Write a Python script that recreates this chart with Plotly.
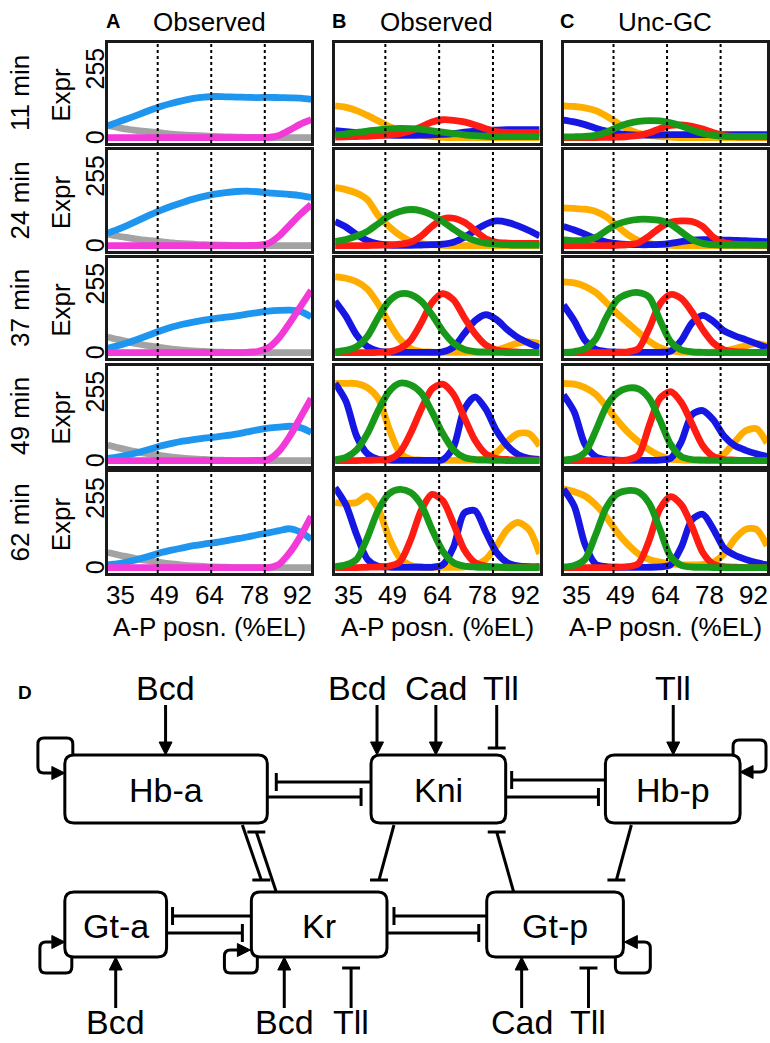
import plotly.graph_objects as go

W, H = 770, 1043
FONT = "Liberation Sans, Arial, Helvetica, sans-serif"

# ---------------- data ----------------
positions = [35, 38, 41, 44, 47, 50, 53, 56, 59, 62, 65, 68, 71, 74, 77, 80, 83, 86, 89, 92]
times = ["11 min", "24 min", "37 min", "49 min", "62 min"]
tick_labels = ["35", "49", "64", "78", "92"]
tick_positions = [38.6, 51.0, 63.5, 76.0, 88.2]
guide_positions = [49, 64, 79]
y_tick_vals = [0, 255]
y_tick_text = ["0", "255"]

# Panel A (observed inputs)
bcd_obs = [
    [45, 37, 30, 25, 21, 17, 13, 10, 8, 6, 4, 3, 2, 1, 1, 0, 0, 0, 0, 0],
    [42, 34, 28, 22, 18, 14, 10, 7, 5, 3, 2, 1, 0, 0, 0, 0, 0, 0, 0, 0],
    [58, 48, 39, 31, 24, 18, 13, 9, 6, 4, 2, 1, 0, 0, 0, 0, 0, 0, 0, 0],
    [58, 47, 38, 30, 24, 18, 13, 9, 6, 4, 2, 1, 0, 0, 0, 0, 0, 0, 0, 0],
    [55, 46, 38, 30, 24, 18, 13, 9, 6, 4, 2, 1, 0, 0, 0, 0, 0, 0, 0, 0],
]
cad_obs = [
    [43, 58, 72, 87, 102, 116, 127, 137, 145, 150, 152, 151, 150, 149, 148, 149, 148, 147, 146, 141],
    [45, 60, 77, 95, 113, 130, 145, 158, 170, 180, 188, 194, 198, 199, 197, 193, 190, 187, 183, 176],
    [16, 26, 38, 52, 67, 82, 95, 105, 113, 120, 126, 131, 136, 142, 148, 153, 156, 157, 152, 132],
    [8, 14, 22, 32, 43, 55, 64, 72, 78, 83, 87, 92, 98, 106, 114, 120, 124, 127, 122, 104],
    [10, 14, 22, 32, 43, 55, 64, 72, 80, 86, 91, 98, 105, 112, 120, 127, 135, 142, 130, 103],
]
tll_obs = [
    [0, 0, 0, 0, 0, 0, 0, 0, 0, 0, 0, 0, 0, 0, 0, 1, 8, 28, 50, 66],
    [0, 0, 0, 0, 0, 0, 0, 0, 0, 0, 0, 0, 0, 0, 1, 8, 35, 75, 115, 150],
    [0, 0, 0, 0, 0, 0, 0, 0, 0, 0, 0, 0, 0, 1, 4, 18, 55, 110, 170, 230],
    [0, 0, 0, 0, 0, 0, 0, 0, 0, 0, 0, 0, 0, 0, 1, 4, 35, 90, 160, 230],
    [0, 0, 0, 0, 0, 0, 0, 0, 0, 0, 0, 0, 0, 0, 0, 0, 12, 55, 115, 188],
]

# Panel B (observed gap genes)
hb_obs = [
    [117, 112, 100, 82, 62, 42, 27, 15, 8, 4, 1, 0, 0, 0, 0, 0, 0, 0, 0, 0],
    [212, 205, 192, 168, 110, 70, 38, 16, 7, 3, 1, 0, 0, 0, 0, 0, 0, 0, 0, 0],
    [280, 275, 262, 235, 180, 110, 50, 15, 4, 2, 1, 1, 1, 1, 2, 8, 22, 35, 40, 33],
    [286, 286, 285, 270, 230, 120, 30, 5, 2, 1, 1, 1, 1, 2, 8, 30, 70, 100, 100, 55],
    [238, 235, 238, 262, 215, 110, 35, 8, 2, 1, 1, 1, 2, 8, 30, 80, 140, 165, 140, 50],
]
gt_obs = [
    [26, 22, 18, 14, 11, 9, 8, 8, 9, 10, 12, 15, 20, 24, 27, 28, 29, 29, 29, 29],
    [88, 68, 40, 18, 6, 2, 1, 1, 2, 3, 5, 12, 30, 55, 78, 90, 85, 72, 55, 35],
    [190, 135, 65, 22, 6, 2, 1, 1, 1, 1, 3, 20, 70, 118, 140, 122, 85, 55, 35, 18],
    [286, 220, 90, 25, 5, 2, 1, 1, 1, 1, 3, 50, 190, 236, 190, 110, 55, 22, 8, 4],
    [293, 230, 120, 30, 5, 2, 1, 1, 1, 1, 10, 75, 200, 208, 130, 55, 18, 6, 3, 3],
]
kr_obs = [
    [10, 14, 19, 24, 29, 32, 34, 33, 30, 25, 20, 15, 10, 7, 5, 4, 4, 4, 4, 4],
    [15, 22, 35, 52, 80, 108, 125, 132, 127, 112, 88, 60, 35, 18, 9, 5, 3, 2, 2, 2],
    [3, 8, 22, 60, 130, 190, 217, 215, 190, 140, 80, 35, 12, 4, 2, 1, 0, 0, 0, 0],
    [3, 12, 40, 100, 185, 255, 286, 280, 250, 180, 100, 40, 12, 4, 2, 1, 0, 0, 0, 0],
    [3, 10, 30, 110, 210, 270, 286, 275, 230, 140, 60, 18, 5, 2, 1, 1, 0, 0, 0, 0],
]
kni_obs = [
    [2, 3, 4, 5, 7, 10, 15, 24, 40, 58, 66, 64, 58, 47, 33, 22, 19, 18, 18, 18],
    [0, 0, 0, 0, 1, 2, 5, 12, 35, 70, 97, 100, 85, 55, 25, 12, 9, 8, 8, 8],
    [0, 0, 0, 0, 1, 3, 15, 45, 110, 185, 218, 195, 130, 70, 28, 10, 4, 2, 1, 1],
    [0, 0, 0, 1, 2, 5, 30, 100, 190, 265, 283, 245, 160, 75, 25, 8, 4, 2, 2, 2],
    [0, 0, 0, 1, 2, 5, 20, 100, 210, 268, 245, 160, 65, 18, 5, 2, 1, 1, 1, 1],
]

# Panel C (Unc-GC model)
hb_unc = [
    [117, 115, 110, 100, 80, 55, 32, 16, 8, 4, 2, 0, 0, 0, 0, 0, 0, 0, 0, 0],
    [138, 136, 133, 125, 105, 72, 40, 18, 7, 3, 1, 0, 0, 0, 0, 0, 0, 0, 0, 0],
    [262, 258, 245, 222, 185, 145, 110, 75, 42, 18, 6, 2, 1, 1, 2, 6, 15, 25, 33, 25],
    [286, 283, 270, 245, 200, 150, 105, 70, 40, 18, 5, 2, 1, 1, 5, 25, 70, 110, 118, 65],
    [287, 278, 262, 230, 185, 130, 85, 50, 30, 20, 14, 10, 10, 12, 20, 50, 105, 140, 140, 80],
]
gt_unc = [
    [65, 58, 48, 35, 24, 16, 11, 9, 9, 10, 11, 11, 11, 11, 11, 11, 11, 11, 11, 11],
    [70, 57, 42, 25, 13, 7, 4, 3, 3, 4, 8, 14, 20, 22, 21, 20, 19, 18, 16, 14],
    [176, 118, 45, 12, 4, 2, 1, 1, 1, 1, 5, 45, 110, 138, 115, 80, 62, 48, 33, 18],
    [243, 180, 60, 15, 4, 2, 1, 1, 1, 2, 8, 70, 170, 185, 150, 90, 55, 38, 25, 15],
    [287, 225, 85, 12, 3, 1, 1, 1, 1, 2, 10, 75, 175, 195, 140, 70, 45, 30, 18, 10],
]
kr_unc = [
    [3, 3, 4, 8, 20, 38, 52, 60, 63, 62, 55, 43, 28, 15, 8, 5, 4, 4, 4, 4],
    [21, 18, 20, 30, 55, 78, 90, 96, 96, 92, 78, 50, 22, 8, 3, 2, 2, 2, 2, 2],
    [1, 4, 14, 50, 130, 195, 217, 222, 205, 120, 40, 10, 3, 1, 0, 0, 0, 0, 0, 0],
    [2, 8, 30, 110, 200, 250, 268, 265, 230, 150, 60, 15, 4, 2, 1, 0, 0, 0, 0, 0],
    [2, 8, 30, 120, 220, 270, 282, 277, 235, 140, 40, 8, 2, 1, 0, 0, 0, 0, 0, 0],
]
kni_unc = [
    [0, 0, 0, 0, 1, 2, 4, 8, 18, 33, 45, 47, 42, 32, 18, 7, 4, 3, 3, 3],
    [0, 0, 0, 0, 0, 1, 3, 10, 35, 65, 85, 90, 88, 70, 30, 10, 5, 3, 2, 2],
    [0, 0, 0, 0, 0, 1, 3, 15, 90, 180, 215, 200, 150, 85, 35, 10, 4, 2, 1, 1],
    [0, 0, 0, 0, 0, 1, 3, 20, 130, 230, 255, 215, 135, 55, 15, 4, 2, 1, 1, 1],
    [0, 0, 0, 0, 0, 1, 3, 15, 100, 215, 260, 230, 150, 55, 12, 3, 1, 0, 0, 0],
]

colors = {
    "Bcd": "#A3A3A3", "Cad": "#1E96F0", "Tll": "#F23AD8",
    "Hb": "#FFAE00", "Gt": "#1717E3", "Kni": "#FF1C12", "Kr": "#18991A",
}

panels = [
    ("A", "Observed", [("Bcd", bcd_obs), ("Cad", cad_obs), ("Tll", tll_obs)]),
    ("B", "Observed", [("Hb", hb_obs), ("Gt", gt_obs), ("Kni", kni_obs), ("Kr", kr_obs)]),
    ("C", "Unc-GC", [("Hb", hb_unc), ("Gt", gt_unc), ("Kni", kni_unc), ("Kr", kr_unc)]),
]

# ---------------- layout geometry (pixels) ----------------
col_px = [(108, 312), (336, 541), (565, 769)]
row_px = [(43, 143), (150, 251), (258, 358), (366, 466), (472, 573)]
y_range = [-20, 350]
x_range = [35, 92]

fig = go.Figure()
layout = dict(
    width=W, height=H, margin=dict(l=0, r=0, t=0, b=0, pad=0), autosize=False,
    paper_bgcolor="white", plot_bgcolor="rgba(0,0,0,0)", showlegend=False,
    font=dict(family=FONT, color="black", size=25),
)
shapes = []
annotations = []

def px_x(p):
    return p / W

def px_y(p):
    return 1 - p / H

idx = 0
for c, (letter, title, series) in enumerate(panels):
    for r in range(5):
        idx += 1
        xa = "x" if idx == 1 else f"x{idx}"
        ya = "y" if idx == 1 else f"y{idx}"
        for name, data in series:
            fig.add_trace(go.Scatter(
                x=positions, y=data[r], mode="lines", name=name,
                line=dict(color=colors[name], width=6.8, shape="spline", smoothing=0.8),
                xaxis=xa, yaxis=ya, hoverinfo="skip",
            ))
        xd = [px_x(col_px[c][0]), px_x(col_px[c][1])]
        yd = [px_y(row_px[r][1]), px_y(row_px[r][0])]
        layout["xaxis" if idx == 1 else f"xaxis{idx}"] = dict(
            domain=xd, range=x_range, anchor=ya, showgrid=False, zeroline=False,
            showline=True, mirror=True, linecolor="#1a1a1a", linewidth=2.5, ticks="",
            showticklabels=False,
        )
        layout["yaxis" if idx == 1 else f"yaxis{idx}"] = dict(
            domain=yd, range=y_range, anchor=xa, showgrid=False, zeroline=False,
            showline=True, mirror=True, linecolor="#1a1a1a", linewidth=2.5, ticks="",
            showticklabels=False,
        )
        if c == 0:
            # y tick labels, placed on this subplot's own y scale
            for v, t in zip(y_tick_vals, y_tick_text):
                annotations.append(dict(
                    x=95 / W, xref="paper", y=v, yref=ya, text=t, showarrow=False,
                    textangle=-90, xanchor="center", yanchor="middle",
                    font=dict(size=25, family=FONT, color="black"),
                ))
        if r == 4:
            # x tick labels, placed on this subplot's own x scale
            for v, t in zip(tick_positions, tick_labels):
                annotations.append(dict(
                    x=v, xref=xa, y=px_y(595), yref="paper", text=t, showarrow=False,
                    xanchor="center", yanchor="middle",
                    font=dict(size=26, family=FONT, color="black"),
                ))
        for g in guide_positions:
            shapes.append(dict(
                type="line", xref=xa, yref=f"{ya} domain", x0=g, x1=g, y0=0, y1=1,
                line=dict(color="black", width=2, dash="3px,3px"), layer="above",
            ))

# ---------------- diagram axis (pixel coordinates) ----------------
layout["xaxis16"] = dict(domain=[0, 1], range=[0, W], visible=False, anchor="y16", fixedrange=True)
layout["yaxis16"] = dict(domain=[0, 1], range=[H, 0], visible=False, anchor="x16", fixedrange=True)
fig.add_trace(go.Scatter(x=[None], y=[None], xaxis="x16", yaxis="y16", showlegend=False))

def ann(x, y, text, size=25, bold=False, angle=0, yanchor="middle"):
    annotations.append(dict(
        x=x, y=y, xref="x16", yref="y16", text=f"<b>{text}</b>" if bold else text,
        showarrow=False, textangle=angle, xanchor="center", yanchor=yanchor,
        font=dict(size=size, family=FONT, color="black"),
    ))

# panel headers
header_pos = [((113, 21), (210, 22)), ((340, 21), (438, 22)), ((568, 21), (667, 22))]
for (letter, title, _), (lp, tp) in zip(panels, header_pos):
    ann(lp[0], lp[1], letter, size=20, bold=True)
    ann(tp[0], tp[1], title, size=26)

# row labels
for r, t in enumerate(times):
    yc = (row_px[r][0] + row_px[r][1]) / 2
    ann(20, yc, t, size=26, angle=-90)
    ann(61, yc + 2, "Expr", size=26, angle=-90)

for c in range(3):
    ann((col_px[c][0] + col_px[c][1]) / 2, 627, "A-P posn. (%EL)", size=26)

# ---------------- network diagram ----------------
LW = 3
DFONT = 34
nodes = {
    "Hb-a": (65, 755, 268, 823),
    "Kni": (372, 755, 507, 823),
    "Hb-p": (607, 755, 742, 823),
    "Gt-a": (65, 892, 167, 957),
    "Kr": (252, 892, 388, 957),
    "Gt-p": (488, 892, 625, 957),
}

def rrect(x0, y0, x1, y1, r=9):
    return (f"M {x0+r},{y0} L {x1-r},{y0} Q {x1},{y0} {x1},{y0+r} L {x1},{y1-r} "
            f"Q {x1},{y1} {x1-r},{y1} L {x0+r},{y1} Q {x0},{y1} {x0},{y1-r} "
            f"L {x0},{y0+r} Q {x0},{y0} {x0+r},{y0} Z")

for name, (x0, y0, x1, y1) in nodes.items():
    shapes.append(dict(type="path", xref="x16", yref="y16", path=rrect(x0, y0, x1, y1),
                       line=dict(color="black", width=LW), fillcolor="white", layer="above"))
    ann((x0 + x1) / 2, (y0 + y1) / 2 + 1, name, size=DFONT)

def line(x0, y0, x1, y1):
    shapes.append(dict(type="line", xref="x16", yref="y16", x0=x0, y0=y0, x1=x1, y1=y1,
                       line=dict(color="black", width=LW), layer="above"))

def head(tx, ty, dx, dy, L=13, w=6.5):
    n = (dx * dx + dy * dy) ** 0.5
    dx, dy = dx / n, dy / n
    bx, by = tx - L * dx, ty - L * dy
    px_, py_ = -dy * w, dx * w
    shapes.append(dict(type="path", xref="x16", yref="y16",
                       path=f"M {tx},{ty} L {bx+px_},{by+py_} L {bx-px_},{by-py_} Z",
                       line=dict(color="black", width=1), fillcolor="black", layer="above"))
    return bx, by

def activate(x0, y0, x1, y1):
    bx, by = head(x1, y1, x1 - x0, y1 - y0)
    line(x0, y0, bx, by)

def repress(x0, y0, x1, y1, bar="perp", half=9):
    line(x0, y0, x1, y1)
    if bar == "h" or (bar == "perp" and x0 == x1):
        line(x1 - half, y1, x1 + half, y1)
    else:
        line(x1, y1 - half, x1, y1 + half)

# external inputs
inputs_top = [("Bcd", 166, "act"), ("Bcd", 378, "act"), ("Cad", 437, "act"),
              ("Tll", 498, "rep"), ("Tll", 675, "act")]
inputs_bottom = [("Bcd", 116, "act"), ("Bcd", 285, "act"), ("Tll", 352, "rep"),
                 ("Cad", 523, "act"), ("Tll", 590, "rep")]
for lab, x, kind in inputs_top:
    ann(x + (4 if x == 498 else 0) - (20 if x == 378 else 0), 688, lab, size=DFONT)
    if kind == "act":
        activate(x, 705, x, 755)
    else:
        repress(x, 705, x, 748)
for lab, x, kind in inputs_bottom:
    ann(x, H, lab, size=DFONT, yanchor="bottom")
    if kind == "act":
        activate(x, 1008, x, 957)
    else:
        repress(x, 1008, x, 968)

# mutual repression between boxes (horizontal)
horiz_rep = [
    (372, 782, 277, 782), (268, 797, 362, 797),
    (607, 780, 513, 780), (507, 797, 600, 797),
    (252, 916, 173, 916), (167, 933, 243, 933),
    (488, 916, 395, 916), (388, 933, 480, 933),
]
for e in horiz_rep:
    repress(*e)

# diagonal repression (horizontal bars)
diag_rep = [
    (243, 825, 262, 880), (277, 892, 257, 832),
    (395, 825, 380, 880), (515, 892, 498, 832),
    (633, 825, 618, 880),
]
for e in diag_rep:
    repress(*e, bar="h")

# self-activation loops
def loop(points, r=6):
    (xa, ya), (xb, yb) = points[-2], points[-1]
    bx, by = head(xb, yb, xb - xa, yb - ya)
    pts = points[:-1] + [(bx, by)]

    def towards(a, b, dist):
        dxx, dyy = b[0] - a[0], b[1] - a[1]
        n = (dxx * dxx + dyy * dyy) ** 0.5
        return a[0] + dxx / n * dist, a[1] + dyy / n * dist

    d = f"M {pts[0][0]},{pts[0][1]}"
    for i in range(1, len(pts) - 1):
        s = towards(pts[i], pts[i - 1], r)
        e = towards(pts[i], pts[i + 1], r)
        d += f" L {s[0]},{s[1]} Q {pts[i][0]},{pts[i][1]} {e[0]},{e[1]}"
    d += f" L {pts[-1][0]},{pts[-1][1]}"
    shapes.append(dict(type="path", xref="x16", yref="y16", path=d,
                       line=dict(color="black", width=LW), layer="above"))

self_loops = [
    [(73, 755), (73, 738), (38, 738), (38, 773), (65, 773)],
    [(735, 755), (735, 740), (768, 740), (768, 772), (742, 772)],
    [(72, 957), (72, 973), (40, 973), (40, 942), (65, 942)],
    [(258, 957), (258, 973), (225, 973), (225, 950), (251, 950)],
    [(617, 957), (617, 973), (652, 973), (652, 942), (626, 942)],
]
for lp in self_loops:
    loop(lp)

ann(25, 692, "D", size=19, bold=True)

layout["shapes"] = shapes
layout["annotations"] = annotations
fig.update_layout(**layout)
fig.write_html(
    "out.html",
    config={"displayModeBar": False},
    post_script="document.body.style.margin='0';document.body.style.padding='0';",
)
